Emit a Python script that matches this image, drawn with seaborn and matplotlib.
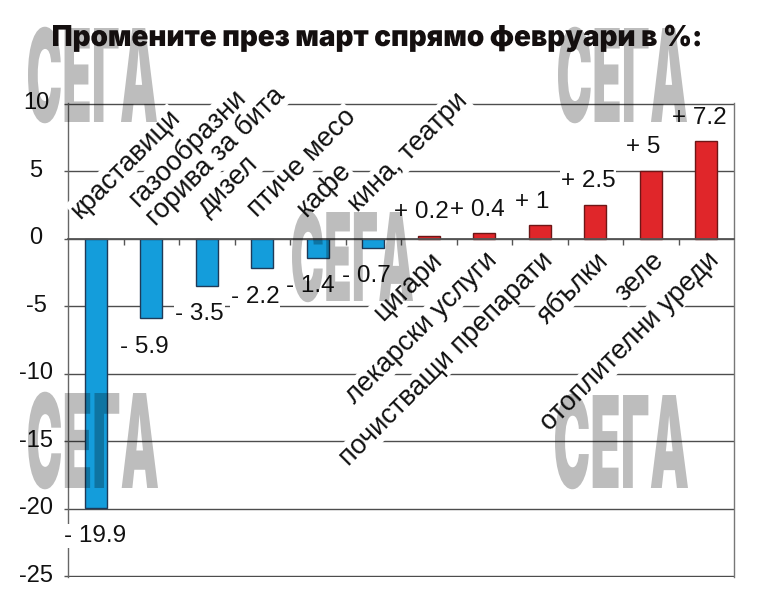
import os
import numpy as np
import pandas as pd
import matplotlib
matplotlib.use("Agg")
import matplotlib.pyplot as plt
import seaborn as sns
from matplotlib import font_manager as fm
from matplotlib.font_manager import FontProperties
from matplotlib.patheffects import AbstractPathEffect
from matplotlib.textpath import TextPath
from matplotlib.transforms import Affine2D, ScaledTranslation

# ---------------- data ----------------
categories = ["краставици", "газообразни\nгорива за бита", "дизел", "птиче месо",
              "кафе", "кина, театри", "цигари", "лекарски услуги",
              "почистващи препарати", "ябълки", "зеле", "отоплителни уреди"]
values = [-19.9, -5.9, -3.5, -2.2, -1.4, -0.7, 0.2, 0.4, 1.0, 2.5, 5.0, 7.2]
yticks = [-25, -20, -15, -10, -5, 0, 5, 10]
title = "Промените през март спрямо февруари в %:"
watermark = "СЕГА"

BLUE, BLUE_EDGE = "#149ddb", "#1f3a58"
RED, RED_EDGE = "#e0262a", "#6e1616"

sns.set_theme(style="white")
plt.rcParams["font.family"] = ["Liberation Sans", "DejaVu Sans"]
plt.rcParams["axes.unicode_minus"] = False


# ---------------- pick the heaviest / most condensed installed sans ----------------
def pick_heavy_font():
    best = None
    for f in fm.fontManager.ttflist:
        fn = os.path.basename(f.fname).lower()
        if any(b in fn for b in ("italic", "oblique", "mono", "cjk")):
            continue
        if not any(fn.startswith(k) for k in ("notosans-", "roboto", "lato", "opensans",
                                              "dejavusans", "liberationsans", "inter")):
            continue
        w = f.weight if isinstance(f.weight, (int, float)) else fm.weight_dict.get(f.weight, 400)
        if "black" in fn or "heavy" in fn:
            w = max(w, 900)
        elif "extrabold" in fn:
            w = max(w, 800)
        elif "bold" in fn and "semibold" not in fn:
            w = max(w, 700)
        if "extracondensed" in fn:
            c = 2.0
        elif "semicondensed" in fn:
            c = 0.5
        elif "condensed" in fn or "narrow" in fn:
            c = 1.0
        else:
            c = 0.0
        score = w / 100.0 + 1.5 * c
        if best is None or score > best[0]:
            best = (score, w, f.fname)
    return best


_best = pick_heavy_font()
if _best is not None:
    HEAVY = FontProperties(fname=_best[2])
    HEAVY_W = _best[1]
else:
    HEAVY = FontProperties(family="DejaVu Sans", weight="bold")
    HEAVY_W = 700

W, H = 760, 597
fig = plt.figure(figsize=(W / 100, H / 100), dpi=100, facecolor="white")
ax = fig.add_axes([68 / W, 1 - 577 / H, (734 - 68) / W, (577 - 103) / H])

df = pd.DataFrame({"cat": categories, "val": values})
df["sign"] = np.where(df["val"] < 0, "neg", "pos")
sns.barplot(data=df, x="cat", y="val", hue="sign", order=categories,
            palette={"neg": BLUE, "pos": RED}, dodge=False, legend=False,
            width=0.4, ax=ax, linewidth=1.0, saturation=1, zorder=3)
for p in ax.patches:
    p.set_edgecolor(BLUE_EDGE if p.get_height() < 0 else RED_EDGE)

ax.set_xlim(-0.5, 11.5)
ax.set_ylim(-25.04, 10.04)
ax.set_xlabel("")
ax.set_ylabel("")

# axes frame
ax.spines["top"].set_visible(False)
ax.spines["bottom"].set_position(("data", 0))
ax.spines["bottom"].set_color("#555555")
ax.spines["bottom"].set_linewidth(1.3)
ax.spines["bottom"].set_zorder(4)
ax.spines["left"].set_color("#666666")
ax.spines["left"].set_linewidth(1.0)
ax.spines["right"].set_color("#777777")
ax.spines["right"].set_linewidth(1.0)

ax.set_xticks(np.arange(0.5, 11, 1.0))
ax.set_xticklabels([])
ax.tick_params(axis="x", bottom=True, direction="out", length=4, width=1, color="#555555")

ax.set_yticks(yticks)
ax.set_yticklabels([str(t) for t in yticks], fontsize=17, color="#111111")
ax.tick_params(axis="y", left=True, direction="out", length=3, width=1, color="#555555", pad=20)
for lbl in ax.get_yticklabels():
    lbl.set_ha("center")
    lbl.set_transform(lbl.get_transform() + ScaledTranslation(0, 3 / 100, fig.dpi_scale_trans))

ax.yaxis.grid(True, color="#4d4d4d", linewidth=1.0)
ax.xaxis.grid(False)
ax.set_axisbelow(True)

box = dict(facecolor="white", edgecolor="none", pad=0.6)

# category labels: offsets (pixels) of the baseline anchor (last line) from bar / zero line
neg_offsets = [(-16, 19), (5, 12), (1, 22), (-5, 21), (-12, 21), (-15, 26)]
pos_offset = (14, -23)
k = 0
for i, (lab, v) in enumerate(zip(categories, values)):
    if v < 0:
        dx, dy = neg_offsets[k] if k < len(neg_offsets) else (-10, 22)
        k += 1
        ha = "left"
    else:
        dx, dy = pos_offset
        ha = "right"
    tr = ax.transData + ScaledTranslation(dx / 100, dy / 100, fig.dpi_scale_trans)
    ax.text(i, 0, lab, transform=tr, rotation=45, rotation_mode="anchor",
            ha=ha, va="baseline", multialignment="left", linespacing=1.0,
            fontsize=19.5, color="#111111", bbox=box, zorder=5)

# value labels
def fmt(v):
    return ("+ " if v > 0 else "- ") + f"{abs(v):g}"

for i, v in enumerate(values):
    y = v - 2.1 if v < 0 else v + 1.75
    dx = -0.13 if i else -0.02
    ax.text(i + dx, y, fmt(v), ha="center", va="center", fontsize=17.5,
            color="#111111", bbox=box, zorder=5)


# ---------------- stretched / emboldened text rendering ----------------
class Stretch(AbstractPathEffect):
    """Scale glyph outlines about the text origin; optional bolding via shifted copies."""

    def __init__(self, sx=1.0, sy=1.0, bx=0.0, by=0.0, n=6):
        super().__init__()
        self.sx, self.sy, self.bx, self.by, self.n = sx, sy, bx, by, n

    def draw_path(self, renderer, gc, tpath, affine, rgbFace=None):
        base = Affine2D().scale(self.sx, self.sy) + affine
        nx = self.n if self.bx else 0
        ny = 3 if self.by else 0
        for a in range(nx + 1):
            for b in range(ny + 1):
                ox = self.bx * a / nx if nx else 0.0
                oy = self.by * b / ny if ny else 0.0
                renderer.draw_path(gc, tpath, base + Affine2D().translate(ox, oy), rgbFace)


def fitted_text(s, x0, baseline, width, cap_px, bx=0.0, by=0.0, **kw):
    """Real text whose ink spans [x0, x0+width] and whose capitals are cap_px tall.
    The font size is chosen from the width; the glyphs are stretched vertically."""
    ref = TextPath((0, 0), s, size=100, prop=HEAVY).get_extents()
    cap_ratio = TextPath((0, 0), "Н", size=100, prop=HEAVY).get_extents().y1 / 100.0
    em_px = 100 * (width - bx) / ref.width
    sy = (cap_px - by) / (cap_ratio * em_px)
    fs_pt = em_px * 72 / 100
    x_anchor = x0 - ref.x0 * em_px / 100
    t = fig.text(x_anchor / W, 1 - baseline / H, s, ha="left", va="baseline",
                 fontproperties=HEAVY, **kw)
    t.set_fontsize(fs_pt)
    t.set_path_effects([Stretch(1.0, sy, bx, by)])
    return t


heavy_enough = HEAVY_W >= 800
wm_boxes = [(28, 122, 129, 94), (558, 122, 129, 94), (292, 301, 121, 89),
            (28, 488, 130, 95), (555, 488, 133, 93)]
for (x0, base, w, h) in wm_boxes:
    if heavy_enough:
        fitted_text(watermark, x0, base, w, h, color="black", alpha=0.26, zorder=10)
    else:
        ax.patch.set_visible(False)
        fitted_text(watermark, x0, base, w, h, bx=8, by=2, color="#bdbdbd", zorder=-5)

# title
fitted_text(title, 53, 46, 647, 21, bx=(0.0 if heavy_enough else 2.0),
            by=(0.0 if heavy_enough else 1.0), color="#140f0f", zorder=20)

fig.savefig("out.png", dpi=100, facecolor="white")
